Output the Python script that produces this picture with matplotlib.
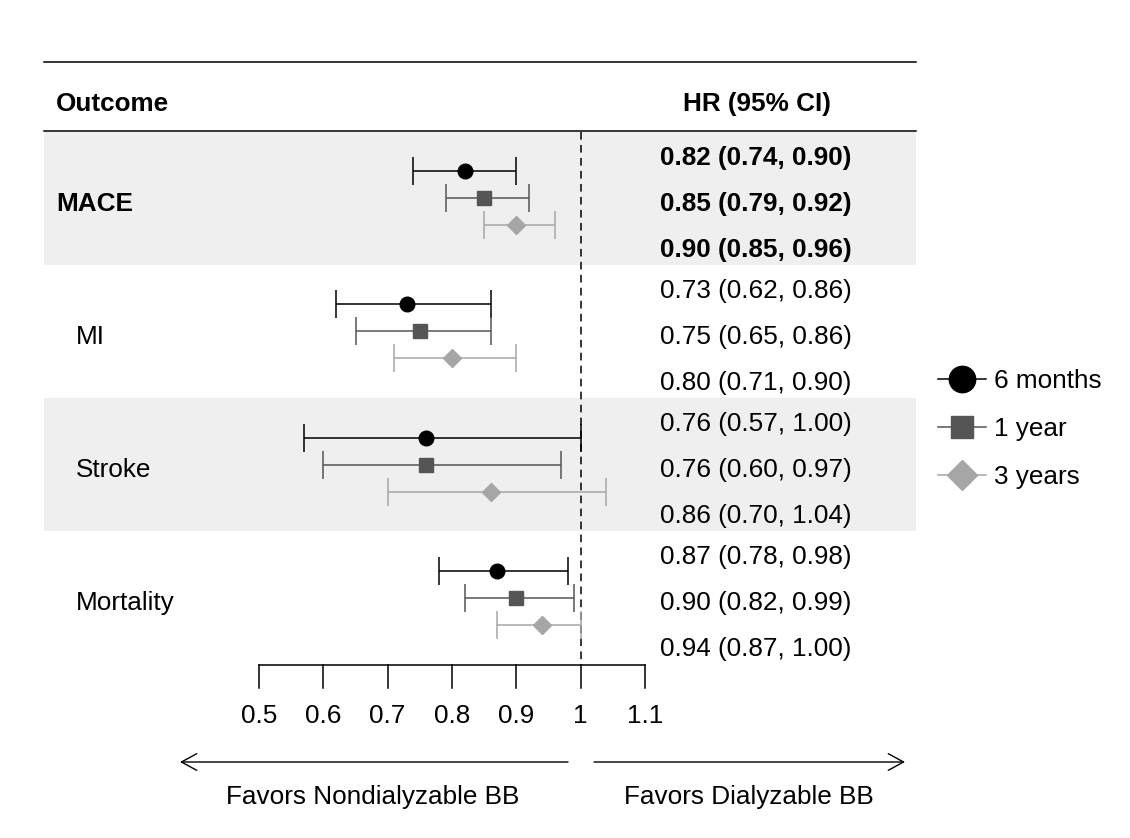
import matplotlib
matplotlib.use("Agg")
import matplotlib.pyplot as plt
from matplotlib.lines import Line2D
from matplotlib.transforms import blended_transform_factory

plt.rcParams['font.family'] = ['Liberation Sans', 'DejaVu Sans']

# %% data
outcomes = ['MACE', 'MI', 'Stroke', 'Mortality']
periods = ['6 months', '1 year', '3 years']
hr = [[0.82, 0.85, 0.90],
      [0.73, 0.75, 0.80],
      [0.76, 0.76, 0.86],
      [0.87, 0.90, 0.94]]
lower = [[0.74, 0.79, 0.85],
         [0.62, 0.65, 0.71],
         [0.57, 0.60, 0.70],
         [0.78, 0.82, 0.87]]
upper = [[0.90, 0.92, 0.96],
         [0.86, 0.86, 0.90],
         [1.00, 0.97, 1.04],
         [0.98, 0.99, 1.00]]
xticks = [0.5, 0.6, 0.7, 0.8, 0.9, 1, 1.1]
xticklabels = ['0.5', '0.6', '0.7', '0.8', '0.9', '1', '1.1']

# %% styles
colors = ['black', '#555555', '#a6a6a6']
markers = ['o', 's', 'D']
msizes = [10.5, 9.5, 9.3]
leg_msizes = [19, 16.5, 15]
band_color = '#efefef'
FS = 18.8

# %% layout (pixel units of the 1130x838 canvas)
W, H = 1130, 838
px_lo, px_hi = 259, 645          # pixel of x=0.5 and x=1.1
scale = (px_hi - px_lo) / (xticks[-1] - xticks[0])


def px2x(px):
    return xticks[0] + (px - px_lo) / scale


fig = plt.figure(figsize=(W / 100, H / 100), dpi=100)
ax = fig.add_axes([0, 0, 1, 1])
ax.set_xlim(px2x(0), px2x(W))
ax.set_ylim(H, 0)
ax.axis('off')
tr = blended_transform_factory(ax.transAxes, ax.transData)

left, right = 44 / W, 916 / W
top_line, head_y, head_line = 62, 104, 131
group_top, group_h = 132, 133
mark_step, text_top, text_step = 27, 158, 46

ax.plot([left, right], [top_line, top_line], color='black', lw=1.1,
        transform=tr, clip_on=False)
ax.plot([left, right], [head_line, head_line], color='black', lw=1.1,
        transform=tr, clip_on=False)
ax.text(56 / W, head_y, 'Outcome', fontsize=FS, fontweight='bold',
        va='center', ha='left', transform=tr)
ax.text(757 / W, head_y, 'HR (95% CI)', fontsize=FS, fontweight='bold',
        va='center', ha='center', transform=tr)

for g, name in enumerate(outcomes):
    y0 = group_top + g * group_h
    if g % 2 == 0:
        ax.fill_between([left, right], y0, y0 + group_h, color=band_color,
                        lw=0, transform=tr, zorder=0)
    bold = 'bold' if g == 0 else 'normal'
    lab_x = 56 / W if g == 0 else 76 / W
    ax.text(lab_x, text_top + g * group_h + text_step, name, fontsize=FS,
            fontweight=bold, va='center', ha='left', transform=tr)
    yc = y0 + group_h / 2
    for k in range(len(periods)):
        y = yc + (k - 1) * mark_step
        ax.errorbar(hr[g][k], y,
                    xerr=[[hr[g][k] - lower[g][k]], [upper[g][k] - hr[g][k]]],
                    fmt=markers[k], color=colors[k], ms=msizes[k],
                    mec=colors[k], mfc=colors[k], elinewidth=1.1,
                    capsize=10, capthick=1.1, zorder=3)
        txt = f'{hr[g][k]:.2f} ({lower[g][k]:.2f}, {upper[g][k]:.2f})'
        ax.text(660 / W, text_top + g * group_h + k * text_step, txt,
                fontsize=FS, fontweight=bold, va='center', ha='left',
                transform=tr)

# reference line
axis_y = 665
ax.plot([1, 1], [group_top, axis_y], color='black', lw=1.1,
        dashes=(5, 3.5), zorder=2)

# x axis
ax.plot([xticks[0], xticks[-1]], [axis_y, axis_y], color='black', lw=1.1)
for t, lab in zip(xticks, xticklabels):
    ax.plot([t, t], [axis_y, axis_y + 23], color='black', lw=1.1)
    ax.text(t, 716, lab, fontsize=FS, ha='center', va='center')

# direction arrows
arrow_y = 762
astyle = '->,head_length=0.55,head_width=0.3'
ax.annotate('', xy=(px2x(180), arrow_y), xytext=(px2x(568), arrow_y),
            arrowprops=dict(arrowstyle=astyle, color='black', lw=1.0,
                            mutation_scale=20, shrinkA=0, shrinkB=0))
ax.annotate('', xy=(px2x(905), arrow_y), xytext=(px2x(594), arrow_y),
            arrowprops=dict(arrowstyle=astyle, color='black', lw=1.0,
                            mutation_scale=20, shrinkA=0, shrinkB=0))
ax.text(px2x(373), 797, 'Favors Nondialyzable BB', fontsize=FS,
        ha='center', va='center')
ax.text(px2x(749), 797, 'Favors Dialyzable BB', fontsize=FS,
        ha='center', va='center')

# legend
handles = [Line2D([0], [0], color=colors[k], marker=markers[k],
                  ms=leg_msizes[k], lw=1.1) for k in range(len(periods))]
fig.legend(handles, periods, loc='center left',
           bbox_to_anchor=(938 / W, 1 - 429 / H), frameon=False,
           fontsize=FS, handlelength=1.85, handletextpad=0.3,
           labelspacing=0.92, borderpad=0, borderaxespad=0)

fig.savefig('out.png', dpi=100)
